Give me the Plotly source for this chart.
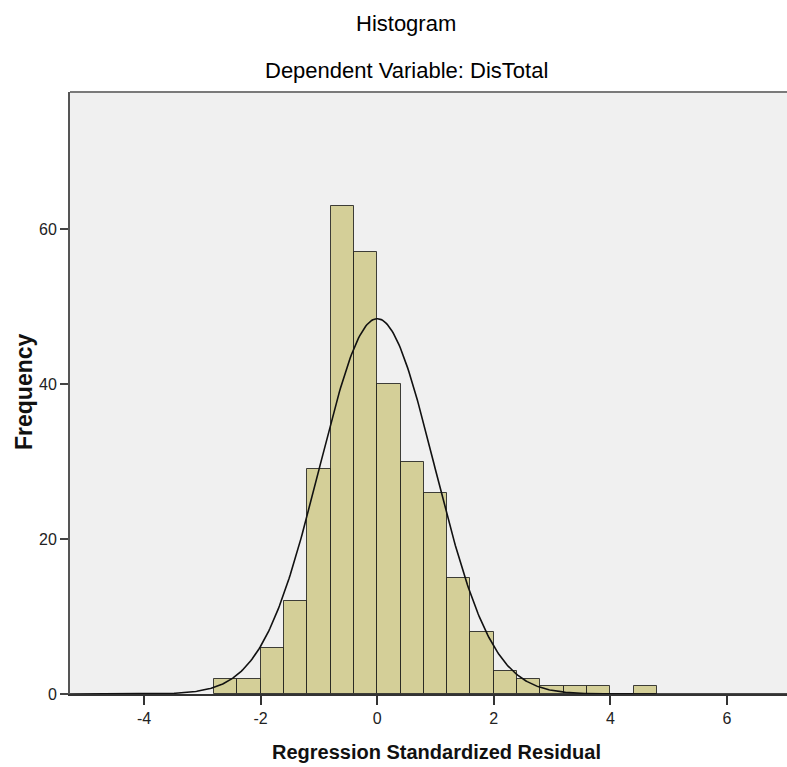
import numpy as np
import plotly.graph_objects as go

# ---- data ----
bin_left = [-2.8, -2.4, -2.0, -1.6, -1.2, -0.8, -0.4, 0.0, 0.4, 0.8, 1.2, 1.6,
            2.0, 2.4, 2.8, 3.2, 3.6, 4.0, 4.4]
counts = [2, 2, 6, 12, 29, 63, 57, 40, 30, 26, 15, 8, 3, 2, 1, 1, 1, 0, 1]
bin_width = 0.4
x_ticks = [-4, -2, 0, 2, 4, 6]
y_ticks = [0, 20, 40, 60]
resid_mean = 0.0
resid_std = 0.985
n_obs = sum(counts)

title_text = "Histogram"
subtitle_text = "Dependent Variable: DisTotal"
x_title = "Regression Standardized Residual"
y_title = "Frequency"

x_range = [-5.27, 7.03]
y_range = [0, 77.7]

centers = [b + bin_width / 2 for b in bin_left]

# normal curve overlay (as drawn by SPSS from mean, std and N)
xc = np.linspace(x_range[0], x_range[1], 600)
yc = n_obs * bin_width * np.exp(-0.5 * ((xc - resid_mean) / resid_std) ** 2) / (resid_std * np.sqrt(2 * np.pi))

fig = go.Figure()
fig.add_trace(go.Bar(
    x=centers, y=counts, width=bin_width,
    marker=dict(color="#d4cf98", line=dict(color="rgba(20,20,20,0.8)", width=1)),
    showlegend=False, hoverinfo="x+y",
))
fig.add_trace(go.Scatter(
    x=xc, y=yc, mode="lines",
    line=dict(color="#111111", width=1.6),
    showlegend=False, hoverinfo="skip",
))

L, R, T, B = 70, 0, 92, 73
W, H = 787, 767
pw = W - L - R
ph = H - T - B

def px(xp):
    return (xp - L) / pw

def py(yp):
    return (H - B - yp) / ph

tick_font = dict(family="Liberation Sans, Arial", size=16, color="#222222")

fig.update_layout(
    width=W, height=H,
    margin=dict(l=L, r=R, t=T, b=B, pad=0),
    paper_bgcolor="#ffffff",
    plot_bgcolor="#f0f0f0",
    bargap=0,
    xaxis=dict(
        range=x_range, tickvals=x_ticks, ticktext=[str(v) for v in x_ticks],
        ticks="outside", ticklen=9, tickwidth=2, tickcolor="#333333",
        showgrid=False, zeroline=False,
        showline=True, linecolor="#333333", linewidth=2,
        tickfont=tick_font, fixedrange=True,
    ),
    yaxis=dict(
        range=y_range, tickvals=y_ticks, ticktext=[str(v) for v in y_ticks],
        ticks="outside", ticklen=8, tickwidth=2, tickcolor="#444444",
        showgrid=False, zeroline=False,
        showline=True, linecolor="#555555", linewidth=2,
        tickfont=tick_font, fixedrange=True,
    ),
    shapes=[
        dict(type="line", xref="paper", yref="paper", x0=0, x1=1, y0=1, y1=1,
             line=dict(color="#7a7a7a", width=2)),
    ],
    annotations=[
        dict(text=title_text, xref="paper", yref="paper", x=px(406), y=py(24),
             xanchor="center", yanchor="middle", showarrow=False,
             font=dict(family="Liberation Sans, Arial", size=22, color="#000000")),
        dict(text=subtitle_text, xref="paper", yref="paper", x=px(406), y=py(71),
             xanchor="center", yanchor="middle", showarrow=False,
             font=dict(family="Liberation Sans, Arial", size=22, color="#000000")),
        dict(text="<b>" + x_title + "</b>", xref="paper", yref="paper", x=px(436), y=py(752),
             xanchor="center", yanchor="middle", showarrow=False,
             font=dict(family="Liberation Sans, Arial", size=20, color="#111111")),
        dict(text="<b>" + y_title + "</b>", xref="paper", yref="paper", x=px(24), y=py(392),
             xanchor="center", yanchor="middle", showarrow=False, textangle=-90,
             font=dict(family="Liberation Sans, Arial", size=23, color="#111111")),
    ],
)

fig.write_html("out.html")
